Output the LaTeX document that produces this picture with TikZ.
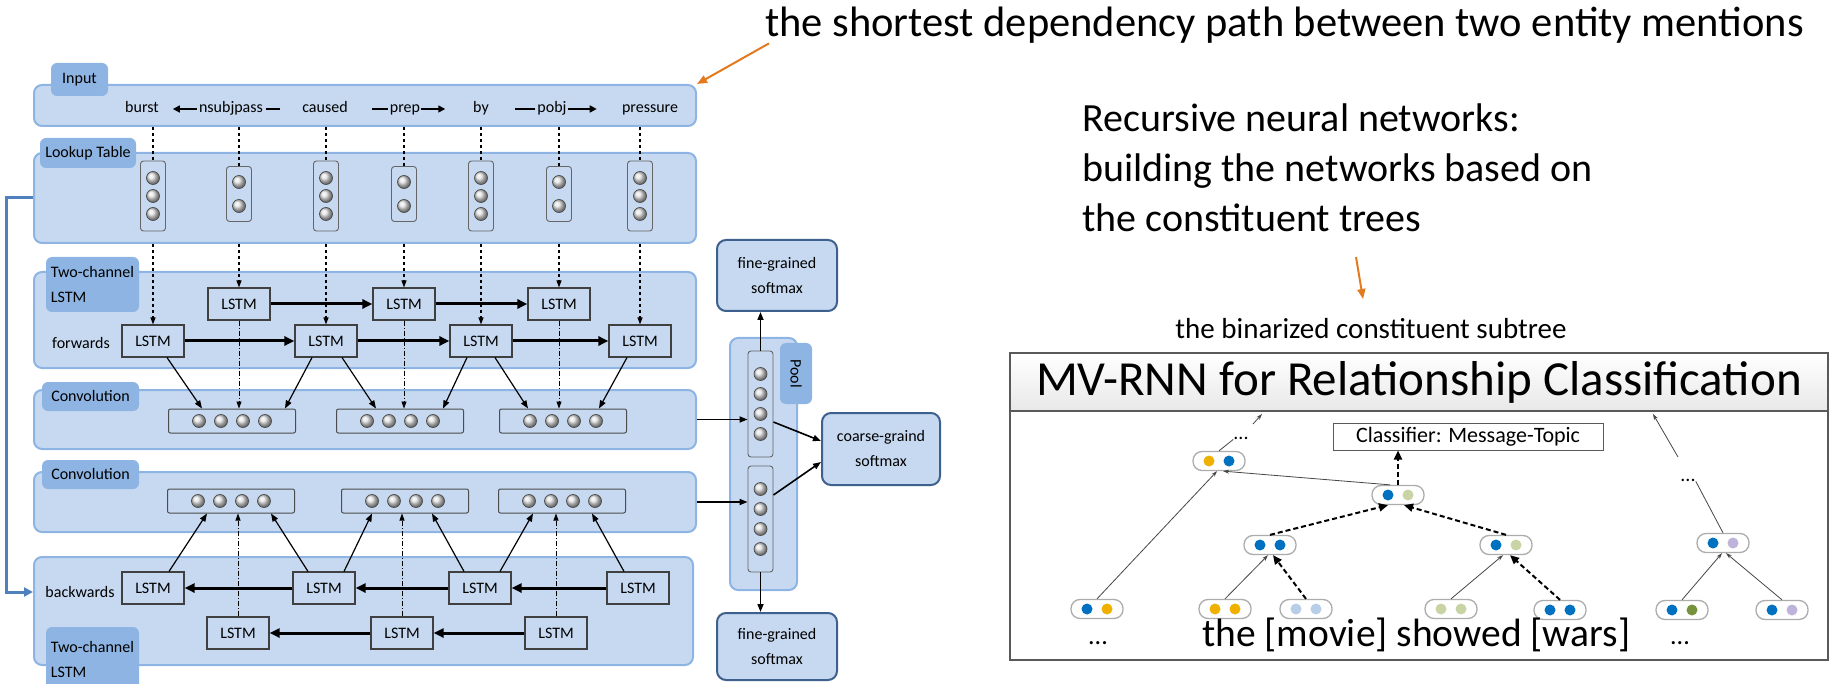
\documentclass[tikz,border=0pt]{standalone}
\usepackage{fontspec}
\setmainfont{Carlito}
\usetikzlibrary{positioning,calc,arrows.meta}

\definecolor{panelfill}{RGB}{198,217,241}
\definecolor{paneledge}{RGB}{141,180,226}
\definecolor{tabfill}{RGB}{141,180,226}
\definecolor{smedge}{RGB}{62,96,140}
\definecolor{linkblue}{RGB}{79,129,189}
\definecolor{orng}{RGB}{228,122,30}
\definecolor{dotblue}{RGB}{0,112,192}
\definecolor{dotyellow}{RGB}{240,176,0}
\definecolor{dotsage}{RGB}{200,212,164}
\definecolor{dotsky}{RGB}{184,206,232}
\definecolor{dotlilac}{RGB}{190,180,218}
\definecolor{dotolive}{RGB}{118,146,60}

\begin{document}
\begin{tikzpicture}[x=1pt,y=-1pt,
  every node/.style={inner sep=0,font=\fontsize{16}{25}\selectfont},
  word/.style={text height=11,text depth=3},
  panel/.style={draw=paneledge,line width=2,fill=panelfill,rounded corners=8,minimum width=662},
  tab/.style={fill=tabfill,rounded corners=6},
  lstm/.style={draw=black!75,line width=1.1,fill=panelfill,minimum width=62,minimum height=32},
  vecbox/.style={draw=black!60,line width=0.9,fill=panelfill,rounded corners=3,minimum width=25},
  convbox/.style={draw=black!70,line width=1,fill=panelfill,rounded corners=2,minimum width=127,minimum height=24},
  unit/.style={circle,draw=black!70,line width=0.7,minimum size=13,ball color=gray!22},
  softmax/.style={draw=smedge,line width=2,fill=panelfill,rounded corners=9,align=center},
  dep/.style={line width=1.6,-{Triangle[length=7pt,width=7pt]}},
  dashline/.style={dashed,line width=1.1},
  feed/.style={dashline,-{Triangle[length=7pt,width=5pt]}},
  skip/.style={line width=0.8,dash pattern=on 5pt off 2pt on 1pt off 2pt,-{Triangle[length=7pt,width=5pt]}},
  conv/.style={line width=1.2,-{Triangle[length=8pt,width=6pt]}},
  flow/.style={line width=3,-{Triangle[length=10pt,width=9pt]}},
  link/.style={line width=1.6,-{Triangle[length=8pt,width=6pt]}},
  note/.style={orng,line width=2,-{Triangle[length=10pt,width=8pt]}},
  pair/.style={draw=gray!65,line width=1.3,rounded corners=9,minimum width=52,minimum height=19,fill=white},
  dot/.style={circle,minimum size=11},
  tree/.style={draw=gray!55!black,line width=0.8,-{Stealth[length=6pt,width=4pt]}},
  dtree/.style={line width=2,dash pattern=on 5pt off 3pt,-{Triangle[length=9pt,width=8pt]}}]
\useasboundingbox (0,0) rectangle (1830,684);

% input row
\node[panel,minimum height=41] (inp) at (365,105.5) {};
\node[tab,minimum width=57,minimum height=33] (inTab) at (79.5,79.5) {Input};
\node[word] (w1) at (142,109) {burst};
\node[word] (w3) at (325,109) {caused};
\node[word] (w5) at (481,109) {by};
\node[word] (w7) at (650,109) {pressure};
\node[word] (d1) at (231,109) {nsubjpass};
\draw[dep] ($(d1.west)+(-2,0)$) -- ++(-24,0);
\draw[line width=1.3] ($(d1.east)+(3,0)$) -- ++(14,0);
\node[word] (d3) at (405,109) {prep};
\draw[line width=1.3] ($(d3.west)+(-2,0)$) -- ++(-16,0);
\draw[dep] ($(d3.east)+(1,0)$) -- ++(24,0);
\node[word] (d5) at (552,109) {pobj};
\draw[line width=1.3] ($(d5.west)+(-2,0)$) -- ++(-20,0);
\draw[dep] ($(d5.east)+(1,0)$) -- ++(29,0);

% lookup table
\node[panel,minimum height=90] (look) at (365,198) {};
\node[tab,minimum width=96,minimum height=30] (lookTab) at (88,153) {Lookup Table};
\foreach \i/\x in {1/153,3/326,5/481,7/640}{
  \node[vecbox,minimum height=70] (v\i) at (\x,196) {};
  \foreach \dy [count=\k] in {-18,0,18}
    \node[unit] (v\i u\k) at (\x,196+\dy) {};
}
\foreach \i/\x in {2/239,4/404,6/559}{
  \node[vecbox,minimum height=55] (v\i) at (\x,194) {};
  \foreach \dy [count=\k] in {-12,12}
    \node[unit] (v\i u\k) at (\x,194+\dy) {};
}
\foreach \i in {1,...,7}
  \draw[dashline] (v\i.north |- inp.south) -- (v\i.north);

% forward lstm
\node[panel,minimum height=96] (fwd) at (365,320) {};
\node[tab,minimum width=93,minimum height=55,align=left] (fwdTab) at (92.5,284.5) {Two-channel\\LSTM};
\node (fwdLbl) at (81,343) {forwards};
\foreach \i/\x in {1/153,3/326,5/481,7/640}
  \node[lstm] (f\i) at (\x,341) {LSTM};
\foreach \i/\x in {2/239,4/404,6/559}
  \node[lstm] (f\i) at (\x,304) {LSTM};

% convolution 1
\node[panel,minimum height=59] (cv1) at (365,419.5) {};
\node[tab,minimum width=97,minimum height=29] (cv1Tab) at (90.5,396.5) {Convolution};
\foreach \n/\x in {a/232,b/400,c/563}{
  \node[convbox] (cv1\n) at (\x,421) {};
  \foreach \dx [count=\k] in {-33,-11,11,33}
    \node[unit] (cv1\n\k) at (\x+\dx,421) {};
}

% convolution 2
\node[panel,minimum height=60] (cv2) at (365,502) {};
\node[tab,minimum width=97,minimum height=29] (cv2Tab) at (90.5,474.5) {Convolution};
\foreach \n/\x in {a/231,b/405,c/562}{
  \node[convbox] (cv2\n) at (\x,501) {};
  \foreach \dx [count=\k] in {-33,-11,11,33}
    \node[unit] (cv2\n\k) at (\x+\dx,501) {};
}

% backward lstm
\node[panel,minimum height=108,minimum width=659] (bwd) at (363.5,611) {};
\node[tab,minimum width=93,minimum height=64,align=left] (bwdTab) at (92.5,659) {Two-channel\\LSTM};
\node (bwdLbl) at (80,592) {backwards};
\foreach \i/\x in {1/153,3/324,5/480,7/638}
  \node[lstm] (b\i) at (\x,588) {LSTM};
\foreach \i/\x in {2/238,4/402,6/556}
  \node[lstm] (b\i) at (\x,633) {LSTM};

% lstm links
\foreach \i in {1,...,7}
  \draw[feed] (f\i.north |- look.south) -- (f\i.north);
\draw[flow] (f1.east) -- (f3.west);
\draw[flow] (f3.east) -- (f5.west);
\draw[flow] (f5.east) -- (f7.west);
\draw[flow] (f2.east) -- (f4.west);
\draw[flow] (f4.east) -- (f6.west);
\draw[flow] (b7.west) -- (b5.east);
\draw[flow] (b5.west) -- (b3.east);
\draw[flow] (b3.west) -- (b1.east);
\draw[flow] (b6.west) -- (b4.east);
\draw[flow] (b4.west) -- (b2.east);
\foreach \i/\n in {2/a,4/b,6/c}{
  \draw[skip] (f\i.south) -- (f\i.south |- cv1\n.north);
  \draw[skip] (b\i.north) -- (b\i.north |- cv2\n.south);
}
\draw[conv] ($(f1.south)+(14,0)$) -- ($(cv1a.north)+(-30,0)$);
\draw[conv] ($(f3.south)+(-14,0)$) -- ($(cv1a.north)+(53,0)$);
\draw[conv] ($(f3.south)+(16,0)$) -- ($(cv1b.north)+(-24,0)$);
\draw[conv] ($(f5.south)+(-14,0)$) -- ($(cv1b.north)+(43,0)$);
\draw[conv] ($(f5.south)+(14,0)$) -- ($(cv1c.north)+(-35,0)$);
\draw[conv] ($(f7.south)+(-13,0)$) -- ($(cv1c.north)+(36,0)$);
\draw[conv] ($(b1.north)+(16,0)$) -- ($(cv2a.south)+(-24,0)$);
\draw[conv] ($(b3.north)+(-16,0)$) -- ($(cv2a.south)+(40,0)$);
\draw[conv] ($(b3.north)+(20,0)$) -- ($(cv2b.south)+(-33,0)$);
\draw[conv] ($(b5.north)+(-16,0)$) -- ($(cv2b.south)+(27,0)$);
\draw[conv] ($(b5.north)+(20,0)$) -- ($(cv2c.south)+(-29,0)$);
\draw[conv] ($(b7.north)+(-14,0)$) -- ($(cv2c.south)+(30,0)$);

% lookup table feeds the backward channel
\draw[linkblue,line width=3,-{Triangle[length=9pt,width=9pt]}] (look.west) -- ++(-27,0) |- ($(bwd.west)+(0,-19)$);

% pooling and softmax
\node[panel,minimum width=67,minimum height=252] (pool) at (763.5,464) {};
\node[tab,rotate=-90,minimum width=61,minimum height=32] (poolTab) at (796,373.5) {Pool};
\node[vecbox,minimum height=106] (p1) at (760.5,404) {};
\node[vecbox,minimum height=106] (p2) at (760.5,519) {};
\foreach \dy [count=\k] in {-30,-10,10,30}{
  \node[unit] (p1u\k) at (760.5,404+\dy) {};
  \node[unit] (p2u\k) at (760.5,519+\dy) {};
}
\node[softmax,minimum width=120,minimum height=71] (sm1) at (777,275.5) {fine-grained\\softmax};
\node[softmax,minimum width=118,minimum height=72] (sm2) at (881,449) {coarse-graind\\softmax};
\node[softmax,minimum width=120,minimum height=67] (sm3) at (777,646.5) {fine-grained\\softmax};
\draw[link] (cv1.east) -- (cv1.east -| p1.west);
\draw[link] (cv2.east) -- (cv2.east -| p2.west);
\draw[link] (p1.north) -- (p1.north |- sm1.south);
\draw[link] (p2.south) -- (p2.south |- sm3.north);
\draw[link] ($(p1.east)+(0,18)$) -- ($(sm2.west)+(0,-8)$);
\draw[link] ($(p2.east)+(0,-24)$) -- ($(sm2.west)+(0,13)$);

% captions
\node[anchor=west,font=\fontsize{42.5}{50}\selectfont] (sdp) at (765,25) {the shortest dependency path between two entity mentions};
\draw[note] ($(sdp.south west)+(4,0)$) -- (inp.north east);
\node[anchor=base west,font=\fontsize{40}{50}\selectfont] (rnn1) at (1082,132) {Recursive neural networks:};
\node[anchor=base west,font=\fontsize{40}{50}\selectfont] (rnn2) at (1082,182) {building the networks based on};
\node[anchor=base west,font=\fontsize{40}{50}\selectfont] (rnn3) at (1082,232) {the constituent trees};
\node[font=\fontsize{29}{34}\selectfont] (bin) at (1371,329) {the binarized constituent subtree};
\coordinate (oTail) at (1356,257);
\coordinate (oTip) at (1363,299);
\draw[note] (oTail) -- (oTip);

% MV-RNN panel
\node[draw=gray!70!black,line width=1.4,fill=white,minimum width=818,minimum height=307] (mv) at (1419,506.5) {};
\node[draw=gray!70!black,line width=1.4,top color=white,bottom color=gray!18,minimum width=818,minimum height=58,font=\fontsize{49}{55}\selectfont] (mvt) at (1419,382) {MV-RNN for Relationship Classification};
\node[draw=gray!70!black,line width=1,fill=white,minimum width=270,minimum height=27,font=\fontsize{22}{26}\selectfont] (cls) at (1468,436.5) {Classifier: Message-Topic};
\foreach \n/\x/\y/\ca/\cb in {A/1219/461/dotyellow/dotblue, B/1398/495/dotblue/dotsage,
    C/1270/545/dotblue/dotblue, D/1506/545/dotblue/dotsage, E/1723/543/dotblue/dotlilac,
    L1/1097/609/dotblue/dotyellow, L2/1225/609/dotyellow/dotyellow, L3/1306/609/dotsky/dotsky,
    L4/1451/609/dotsage/dotsage, L5/1560/610/dotblue/dotblue, L6/1682/610/dotblue/dotolive,
    L7/1782/610/dotblue/dotlilac}{
  \node[pair] (\n) at (\x,\y) {};
  \node[dot,fill=\ca] (\n-l) at (\x-10,\y) {};
  \node[dot,fill=\cb] (\n-r) at (\x+10,\y) {};
}
\node[font=\fontsize{20}{20}\selectfont] (dA) at (1241,438) {...};
\node[font=\fontsize{20}{20}\selectfont] (dE) at (1688,480) {...};
\node[font=\fontsize{26}{26}\selectfont] (dL) at (1098,643) {...};
\node[font=\fontsize{26}{26}\selectfont] (dR) at (1680,643) {...};
\node[anchor=base west,font=\fontsize{39.5}{44}\selectfont] (sent) at (1202,646) {the [movie] showed [wars]};
\coordinate (sL) at (1253,424);
\coordinate (tL) at (1262,414);
\coordinate (sR) at (1678,457);
\coordinate (tR) at (1653,414);
\draw[tree] (L1.north) -- ($(A.south)+(-2,0)$);
\draw[tree] ($(B.north)+(-8,0)$) -- ($(A.south)+(4,0)$);
\draw[tree] (L2.north) -- ($(C.south)+(-2,0)$);
\draw[tree] (L4.north) -- ($(D.south)+(-3,0)$);
\draw[tree] (L6.north) -- ($(E.south)+(-1,0)$);
\draw[tree] (L7.north) -- ($(E.south)+(3,0)$);
\draw[tree,-] (A.north) -- (dA.south west);
\draw[tree,-] (E.north) -- (dE.south east);
\draw[tree] (sL) -- (tL);
\draw[tree] (sR) -- (tR);
\draw[dtree] (B.north) -- (B.north |- cls.south);
\draw[dtree] (C.north) -- ($(B.south)+(-10,0)$);
\draw[dtree] (D.north) -- ($(B.south)+(6,0)$);
\draw[dtree] (L3.north) -- ($(C.south)+(3,0)$);
\draw[dtree] (L5.north) -- ($(D.south)+(4,0)$);
\end{tikzpicture}
\end{document}
